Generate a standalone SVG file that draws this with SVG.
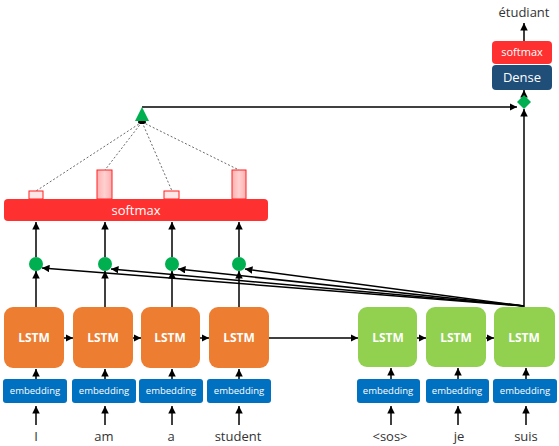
<svg xmlns="http://www.w3.org/2000/svg" width="559" height="446" viewBox="0 0 559 446">
<defs>
<marker id="ah" viewBox="0 0 10 10" refX="10" refY="5" markerWidth="5" markerHeight="5" orient="auto"><path d="M0,0 L10,5 L0,10 z" fill="#000"/></marker>
<linearGradient id="pk" x1="0" y1="0" x2="1" y2="0"><stop offset="0" stop-color="#ffb0b0"/><stop offset="0.5" stop-color="#ffd0d0"/><stop offset="1" stop-color="#ffb0b0"/></linearGradient>
</defs>
<style>
.enc{fill:#ED7D31}
.dec{fill:#92D050}
.emb{fill:#0070C0}
.lt{font-family:"Open Sans","Noto Sans",sans-serif;font-weight:bold;font-size:12px;fill:#fff;text-anchor:middle}
.et{font-family:"Open Sans","Noto Sans",sans-serif;font-size:9.5px;fill:#fff;text-anchor:middle}
.wt{font-family:"Open Sans","Noto Sans",sans-serif;font-size:13px;fill:#333;text-anchor:middle}
.c{stroke:#000;stroke-width:1.5;fill:none}
.a{marker-end:url(#ah)}
.d{stroke:#444;stroke-width:0.8;stroke-dasharray:2,2;fill:none}
.dot{fill:#00B050}
.bar{fill:url(#pk);stroke:#FF2020;stroke-width:1}
.sbar{fill:#FFE6E6;stroke:#FF2020;stroke-width:1}
</style>
<g id="connectors">
<line class="c a" x1="36" y1="425" x2="36" y2="406"/>
<line class="c a" x1="105" y1="425" x2="105" y2="406"/>
<line class="c a" x1="172" y1="425" x2="172" y2="406"/>
<line class="c a" x1="239" y1="425" x2="239" y2="406"/>
<line class="c a" x1="391" y1="425" x2="391" y2="406"/>
<line class="c a" x1="458" y1="425" x2="458" y2="406"/>
<line class="c a" x1="526" y1="425" x2="526" y2="406"/>
<line class="c a" x1="36" y1="379" x2="36" y2="369"/>
<line class="c a" x1="105" y1="379" x2="105" y2="369"/>
<line class="c a" x1="172" y1="379" x2="172" y2="369"/>
<line class="c a" x1="239" y1="379" x2="239" y2="369"/>
<line class="c a" x1="391" y1="379" x2="391" y2="368"/>
<line class="c a" x1="458" y1="379" x2="458" y2="368"/>
<line class="c a" x1="526" y1="379" x2="526" y2="368"/>
<line class="c a" x1="64" y1="338" x2="73" y2="338"/>
<line class="c a" x1="133" y1="338" x2="141" y2="338"/>
<line class="c a" x1="200" y1="338" x2="209" y2="338"/>
<line class="c a" x1="269" y1="338" x2="358" y2="338"/>
<line class="c a" x1="417" y1="338" x2="426" y2="338"/>
<line class="c a" x1="486" y1="338" x2="494" y2="338"/>
<line class="c a" x1="36" y1="307" x2="36" y2="271"/>
<line class="c a" x1="105" y1="307" x2="105" y2="271"/>
<line class="c a" x1="172" y1="307" x2="172" y2="271"/>
<line class="c a" x1="239" y1="307" x2="239" y2="271"/>
<line class="c a" x1="36" y1="257" x2="36" y2="222"/>
<line class="c a" x1="105" y1="257" x2="105" y2="222"/>
<line class="c a" x1="172" y1="257" x2="172" y2="222"/>
<line class="c a" x1="239" y1="257" x2="239" y2="222"/>
<line class="c a" x1="524" y1="306" x2="42" y2="268"/>
<line class="c a" x1="524" y1="306" x2="111" y2="269"/>
<line class="c a" x1="524" y1="306" x2="178" y2="269"/>
<line class="c a" x1="524" y1="306" x2="245" y2="269"/>
<line class="c a" x1="524" y1="307" x2="524" y2="109"/>
<polyline class="c a" points="142,107 517,107"/>
<line class="c a" x1="524" y1="96" x2="524" y2="90"/>
<line class="c a" x1="524" y1="41" x2="524" y2="23"/>
<line class="d" x1="142" y1="122" x2="36" y2="191"/>
<line class="d" x1="142" y1="122" x2="105" y2="170"/>
<line class="d" x1="142" y1="122" x2="172" y2="191"/>
<line class="d" x1="142" y1="122" x2="239" y2="170"/>
</g>
<g id="markers">
<circle class="dot" cx="36" cy="264" r="7"/>
<circle class="dot" cx="105" cy="264" r="7"/>
<circle class="dot" cx="172" cy="264" r="7"/>
<circle class="dot" cx="239" cy="264" r="7"/>
<ellipse cx="142" cy="122" rx="4" ry="2" fill="#000"/>
<polygon class="dot" points="142,107 135,121 149,121"/>
<polygon class="dot" points="524,95 531,102 524,109 517,102"/>
</g>
<g id="bars">
<rect class="sbar" x="29" y="191" width="14" height="8"/>
<rect class="bar" x="97" y="170" width="15" height="29"/>
<rect class="sbar" x="164" y="191" width="15" height="8"/>
<rect class="bar" x="232" y="170" width="14" height="29"/>
</g>
<g id="softmax-main"><rect x="4" y="199" width="264" height="22" rx="4" fill="#FF3030"/><text class="et" x="136" y="215" style="font-size:13px">softmax</text></g>
<g id="enc1"><rect class="enc" x="4" y="307" width="60" height="61" rx="9"/><text class="lt" x="34" y="342">LSTM</text></g>
<g id="enc2"><rect class="enc" x="73" y="307" width="60" height="61" rx="9"/><text class="lt" x="103" y="342">LSTM</text></g>
<g id="enc3"><rect class="enc" x="141" y="307" width="59" height="61" rx="9"/><text class="lt" x="170" y="342">LSTM</text></g>
<g id="enc4"><rect class="enc" x="209" y="307" width="60" height="61" rx="9"/><text class="lt" x="239" y="342">LSTM</text></g>
<g id="dec1"><rect class="dec" x="358" y="307" width="59" height="60" rx="9"/><text class="lt" x="388" y="342">LSTM</text></g>
<g id="dec2"><rect class="dec" x="426" y="307" width="60" height="60" rx="9"/><text class="lt" x="456" y="342">LSTM</text></g>
<g id="dec3"><rect class="dec" x="494" y="307" width="61" height="60" rx="9"/><text class="lt" x="524" y="342">LSTM</text></g>
<g id="emb1"><rect class="emb" x="3" y="379" width="64" height="24" rx="3"/><text class="et" x="35" y="394">embedding</text></g>
<g id="emb2"><rect class="emb" x="72" y="379" width="64" height="24" rx="3"/><text class="et" x="104" y="394">embedding</text></g>
<g id="emb3"><rect class="emb" x="139" y="379" width="64" height="24" rx="3"/><text class="et" x="171" y="394">embedding</text></g>
<g id="emb4"><rect class="emb" x="207" y="379" width="64" height="24" rx="3"/><text class="et" x="239" y="394">embedding</text></g>
<g id="emb5"><rect class="emb" x="357" y="379" width="63" height="24" rx="3"/><text class="et" x="388" y="394">embedding</text></g>
<g id="emb6"><rect class="emb" x="426" y="379" width="63" height="24" rx="3"/><text class="et" x="457" y="394">embedding</text></g>
<g id="emb7"><rect class="emb" x="493" y="379" width="64" height="24" rx="3"/><text class="et" x="525" y="394">embedding</text></g>
<g id="words">
<text class="wt" x="36" y="441">I</text>
<text class="wt" x="104" y="441">am</text>
<text class="wt" x="171" y="441">a</text>
<text class="wt" x="238" y="441">student</text>
<text class="wt" x="390" y="441">&lt;sos&gt;</text>
<text class="wt" x="459" y="441">je</text>
<text class="wt" x="526" y="441">suis</text>
<text class="wt" x="524" y="17">étudiant</text>
</g>
<g id="softmax-out"><rect x="492" y="41" width="60" height="23" rx="4" fill="#FF3030"/><text class="et" x="522" y="56" style="font-size:11px">softmax</text></g>
<g id="dense"><rect x="492" y="65" width="60" height="25" rx="4" fill="#1F4E79"/><text class="et" x="522" y="82" style="font-size:13px">Dense</text></g>
</svg>
